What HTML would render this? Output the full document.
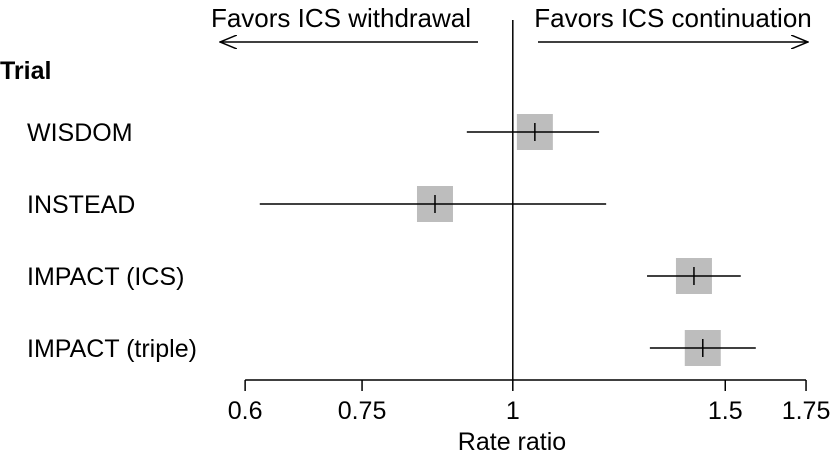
<!DOCTYPE html>
<html><head><meta charset="utf-8"><style>
html,body{margin:0;padding:0;background:#fff}
svg text{font-family:"Liberation Sans",Arial,sans-serif;fill:#000}
</style></head><body>
<svg id="chart" width="832" height="462" viewBox="0 0 832 462">
<defs><marker id="ah" markerWidth="18" markerHeight="14" refX="17" refY="7" orient="auto" markerUnits="userSpaceOnUse"><path d="M0,0 L17,7 L0,14" fill="none" stroke="#000" stroke-width="1.5"/></marker></defs>
<text x="341" y="27" font-size="26" text-anchor="middle">Favors ICS withdrawal</text>
<text x="673" y="27" font-size="26" text-anchor="middle">Favors ICS continuation</text>
<line x1="478" y1="42" x2="220" y2="42" stroke="#000" stroke-width="1.5" marker-end="url(#ah)"/>
<line x1="538" y1="42" x2="808" y2="42" stroke="#000" stroke-width="1.5" marker-end="url(#ah)"/>
<text x="0" y="79" font-size="25" font-weight="bold">Trial</text>
<g id="marks"></g>
<text x="512" y="450" font-size="25" text-anchor="middle">Rate ratio</text>
</svg>
<script>
const trials = ["WISDOM","INSTEAD","IMPACT (ICS)","IMPACT (triple)"];
const estimates = [1.043,0.862,1.413,1.437];
const lowerCI = [0.916,0.617,1.292,1.299];
const upperCI = [1.179,1.195,1.545,1.59];
const ticks = [0.6,0.75,1,1.5,1.75];
const tickLabels = ["0.6","0.75","1","1.5","1.75"];

const NS="http://www.w3.org/2000/svg";
const g=document.getElementById('marks');
function x(v){return 512.8+524*Math.log(v);}
function y(i){return 132+i*72;}
function mk(t,a){const e=document.createElementNS(NS,t);for(const k in a)e.setAttribute(k,a[k]);g.appendChild(e);return e;}
let ref=mk('line',{x1:x(1),y1:20,x2:x(1),y2:380,stroke:'#000','stroke-width':1.5});


let ax=mk('line',{x1:x(ticks[0]),y1:380,x2:x(ticks[ticks.length-1]),y2:380,stroke:'#000','stroke-width':1.5});


ticks.forEach((t,i)=>{
  const tk=mk('line',{x1:x(t),y1:380,x2:x(t),y2:391,stroke:'#000','stroke-width':1.5});
  
  
  const tl=mk('text',{x:x(t),y:419,'font-size':25,'text-anchor':'middle'});
  tl.textContent=tickLabels[i];
  
  
});
trials.forEach((n,i)=>{
  const yy=y(i);
  const lb=mk('text',{x:27,y:yy+9,'font-size':25});
  lb.textContent=n;
  
  
  const bx=mk('rect',{x:x(estimates[i])-18,y:yy-18,width:36,height:36,fill:'#bdbdbd'});
  
  
  const ci=mk('line',{x1:x(lowerCI[i]),y1:yy,x2:x(upperCI[i]),y2:yy,stroke:'#000','stroke-width':1.5});
  
  
  const pt=mk('line',{x1:x(estimates[i]),y1:yy-9,x2:x(estimates[i]),y2:yy+9,stroke:'#000','stroke-width':1.5});
  
  
});
</script>
</body></html>
